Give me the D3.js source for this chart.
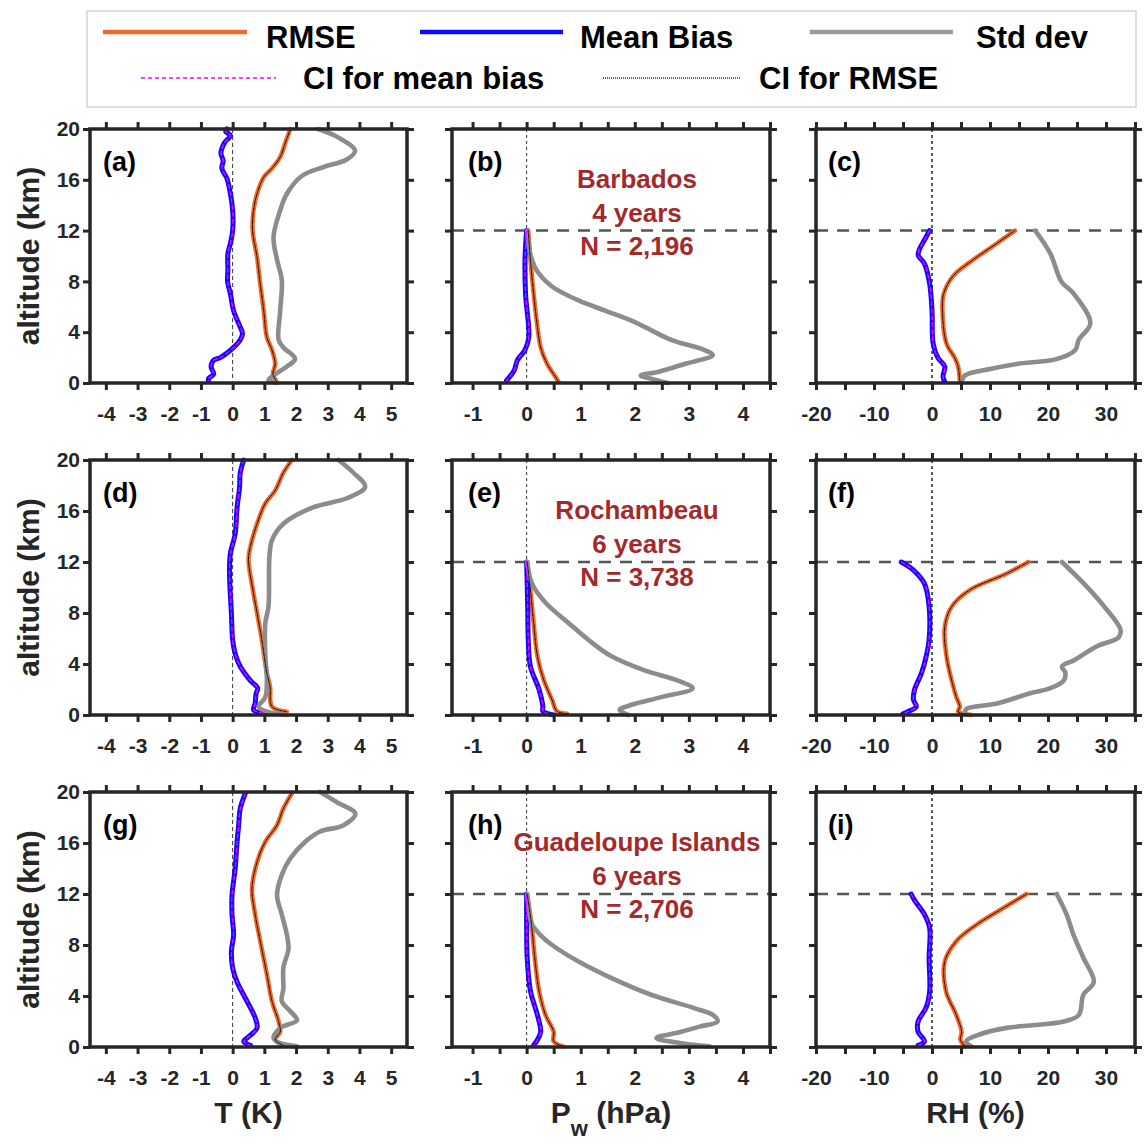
<!DOCTYPE html>
<html>
<head>
<meta charset="utf-8">
<script src="https://cdn.jsdelivr.net/npm/d3@7"></script>
<style>
  body { margin: 0; background: #fff; }
  svg { display: block; }
  text { font-family: "Liberation Sans", Arial, sans-serif; font-weight: bold; }
</style>
</head>
<body>
<svg id="chart" width="1144" height="1146"></svg>
<script>
// ---------- Station annotations ----------
const stationNames = ["Barbados", "Rochambeau", "Guadeloupe Islands"];
const stationYears = ["4 years", "6 years", "6 years"];
const stationCounts = ["N = 2,196", "N = 3,738", "N = 2,706"];
const panelLabels = [["(a)", "(b)", "(c)"], ["(d)", "(e)", "(f)"], ["(g)", "(h)", "(i)"]];

// ---------- Axis ticks ----------
const altitudeTicks = [0, 4, 8, 12, 16, 20];
const tTicks = [-4, -3, -2, -1, 0, 1, 2, 3, 4, 5];
const tLabels = [-4, -3, -2, -1, 0, 1, 2, 3, 4, 5];
const pwTicks = [-1, -0.5, 0, 0.5, 1, 1.5, 2, 2.5, 3, 3.5, 4, 4.5];
const pwLabels = [-1, 0, 1, 2, 3, 4];
const rhTicks = [-20, -15, -10, -5, 0, 5, 10, 15, 20, 25, 30, 35];
const rhLabels = [-20, -10, 0, 10, 20, 30];

// ---------- Profiles: [altitude km, value] ----------
// Temperature (K)
const rmseT_BGI = [[20,1.82],[18.9,1.66],[17.8,1.5],[16.9,1.24],[16.2,0.98],[14.9,0.77],[13.6,0.66],[12,0.63],[9.9,0.77],[7.8,0.87],[5.7,0.98],[3.6,1.08],[2.6,1.24],[1.5,1.34],[0.7,1.27],[0.2,1.37]];
const biasT_BGI = [[20,-0.18],[19.8,-0.22],[19.5,-0.07],[18.9,-0.26],[18.1,-0.37],[17.5,-0.3],[16.9,-0.34],[16.1,-0.18],[14.9,-0.07],[13.6,0],[12,0],[11,-0.07],[10.2,-0.15],[8.9,-0.15],[8,-0.16],[7,-0.07],[5.7,0.03],[4.4,0.24],[3.9,0.31],[3.4,0.24],[2.8,0.03],[2.0,-0.39],[1.8,-0.6],[1.26,-0.68],[0.7,-0.6],[0.35,-0.76],[0.1,-0.76]];
const sdT_BGI = [[20,2.7],[19.4,3.28],[18.3,3.86],[17.6,3.6],[17,2.86],[16.3,2.18],[14.9,1.71],[13.6,1.5],[11.5,1.29],[9.7,1.4],[8.1,1.55],[5.7,1.5],[3.4,1.45],[2.8,1.6],[1.9,1.97],[1.3,1.71],[0.6,1.29],[0.2,1.13],[0,1.4]];

const rmseT_ROC = [[20,1.87],[19,1.6],[17.6,1.34],[16.6,1.03],[15,0.77],[13.2,0.56],[12.2,0.5],[9.8,0.64],[8,0.77],[5.9,0.92],[3.3,1.08],[2.2,1.18],[0.65,1.24],[0.26,1.71]];
const biasT_ROC = [[20,0.35],[19,0.24],[17.9,0.22],[16.3,0.14],[14.2,0.08],[12.7,-0.07],[11.6,-0.1],[10.3,-0.09],[8,-0.04],[5.9,0],[4.8,0.08],[3.8,0.24],[2.7,0.56],[2.1,0.79],[1.7,0.74],[0.9,0.71],[0.4,0.66],[0.1,1.08]];
const sdT_ROC = [[20,3.34],[19,3.81],[17.9,4.18],[17,3.6],[16.3,2.55],[15,1.6],[13.7,1.24],[12.4,1.16],[8.5,1.13],[7.2,1.03],[4.6,1.03],[2.7,1.08],[1.4,1.03],[0.65,0.82],[0.26,1.08],[0,1.71]];

const rmseT_GUA = [[19.9,1.87],[18.7,1.6],[17.4,1.4],[16.1,1.03],[14.5,0.77],[12.4,0.61],[10.4,0.71],[8.3,0.87],[5.7,1.08],[3.6,1.24],[2.0,1.45],[1.2,1.5],[0.57,1.34],[0.13,1.6]];
const biasT_GUA = [[19.9,0.4],[18.7,0.24],[17.4,0.19],[16.1,0.14],[14,0.08],[11.9,-0.02],[10.4,-0.02],[8.8,0.03],[7.5,-0.04],[6.2,0],[5.1,0.14],[3.6,0.45],[2.3,0.71],[1.5,0.77],[0.8,0.5],[0.44,0.35],[0.13,0.56]];
const sdT_GUA = [[20,2.76],[19.2,3.29],[18.3,3.87],[17.4,3.5],[16.9,2.76],[16.1,2.29],[14.8,1.82],[13.5,1.55],[11.9,1.4],[10.4,1.55],[8.8,1.71],[7.7,1.76],[6.2,1.6],[4.6,1.6],[3.6,1.55],[2.8,1.82],[2.1,2.03],[1.5,1.5],[0.7,1.29],[0.3,1.5],[0.05,2.03]];

// Water vapour pressure (hPa)
const rmsePw_BGI = [[12,0.03],[9.7,0.07],[7,0.13],[4.4,0.2],[2.8,0.26],[1.5,0.38],[0.5,0.53],[0.1,0.59]];
const biasPw_BGI = [[12,0],[9.7,-0.03],[7,-0.02],[3.6,0.04],[2.6,-0.03],[1.8,-0.17],[1.0,-0.23],[0.2,-0.37]];
const sdPw_BGI = [[12,0.01],[10.5,0.05],[9.7,0.1],[8.9,0.18],[7.6,0.47],[6.5,0.96],[5.7,1.45],[4.8,2.0],[3.4,2.67],[2.7,3.22],[2.2,3.44],[1.5,2.92],[0.87,2.43],[0.6,2.11],[0.34,2.3],[0,2.61]];

const rmsePw_ROC = [[12,0.01],[9.8,0.07],[7.2,0.13],[4.6,0.2],[2.7,0.32],[1.2,0.47],[0.3,0.56],[0.1,0.75]];
const biasPw_ROC = [[12,0],[8.5,0.02],[5.9,0.03],[3.8,0.07],[2.0,0.23],[0.65,0.3],[0.3,0.3],[0,0.5]];
const sdPw_ROC = [[12,0.01],[10.3,0.1],[8.8,0.35],[7.2,0.78],[5.9,1.14],[4.6,1.57],[3.5,2.18],[2.7,2.8],[2.1,3.07],[1.4,2.49],[0.8,1.94],[0.4,1.72],[0,1.88]];

const rmsePw_GUA = [[12,0.01],[9.6,0.09],[7,0.15],[4.4,0.23],[2.5,0.35],[1.2,0.5],[0.44,0.5],[0.05,0.67]];
const biasPw_GUA = [[12,0],[9.6,0],[7,0.01],[4.4,0.07],[2.5,0.2],[1.2,0.26],[0.57,0.2],[0.13,0.13]];
const sdPw_GUA = [[12,0.01],[10.5,0.05],[9.6,0.1],[8.8,0.25],[8.0,0.47],[6.7,0.96],[5.4,1.57],[4.1,2.3],[3.05,3.1],[2.5,3.45],[2.0,3.53],[1.6,3.2],[1.2,2.86],[0.7,2.4],[0.3,2.86],[0.05,3.38]];

// Relative humidity (%)
const rmseRH_BGI = [[12,14.3],[11,11.2],[9.7,7.1],[8.4,3.6],[7,2.0],[5.7,1.8],[3.1,2.5],[2.0,3.9],[1.3,4.5],[0.1,4.8]];
const biasRH_BGI = [[12,-0.4],[11.5,-1],[10.1,-2.4],[9.4,-1.3],[7.8,-0.4],[5.7,0],[3.1,0.2],[2.0,1.0],[1.3,2.2],[0.5,1.9],[0.1,2.2]];
const sdRH_BGI = [[12,17.8],[10.2,20.4],[8,22.3],[7,24.5],[4.7,27.3],[3.4,25.3],[2.6,24.7],[1.9,21.6],[1.5,14.6],[1.1,10],[0.6,5.7],[0.1,5.1]];

const rmseRH_ROC = [[12,16.6],[11.1,12.9],[9.8,6.5],[8.5,3.4],[6.9,2.2],[4.6,2.5],[2.7,3.4],[1.4,4.2],[0.65,4.8],[0.26,4.5],[0,6.8]];
const biasRH_ROC = [[12,-5.3],[11.4,-3.3],[10.3,-1.3],[8.5,-0.5],[5.9,-0.5],[4.6,-1],[3.3,-1.8],[2.0,-3.0],[1.2,-3.2],[0.65,-2.7],[0.26,-4.2],[0.1,-5]];
const sdRH_ROC = [[12,22.4],[10.3,26.2],[8.5,29.7],[6.7,32.5],[6.1,32.2],[5.4,28.5],[4.3,24.5],[3.8,22.4],[3.3,23],[2.7,22.7],[2.1,20.4],[1.7,16.9],[0.9,11.2],[0.5,6],[0.26,5.7]];

const rmseRH_GUA = [[12,16.3],[10.9,12.3],[9.6,7.7],[8.3,4.2],[6.7,2.2],[4.4,2.4],[2.5,4.2],[1.2,5.1],[0.57,4.9],[0.05,5.7]];
const biasRH_GUA = [[12,-3.6],[11.5,-3],[10.4,-1.3],[9.3,-0.4],[7,-0.5],[4.4,-0.4],[3.1,-1],[2.0,-2.4],[1.2,-2.4],[0.44,-1.3],[0.13,-2.4]];
const sdRH_GUA = [[12,21.5],[10.4,23.2],[8.8,24.4],[7,26.1],[5.1,27.9],[4.1,26.1],[2.5,25.3],[2.0,22.7],[1.5,12.9],[1.0,8.3],[0.44,5.9],[0.05,6.8]];

// ---------- Assembly ----------
const profiles = [
  [ {rmse: rmseT_BGI, bias: biasT_BGI, sd: sdT_BGI},
    {rmse: rmsePw_BGI, bias: biasPw_BGI, sd: sdPw_BGI},
    {rmse: rmseRH_BGI, bias: biasRH_BGI, sd: sdRH_BGI} ],
  [ {rmse: rmseT_ROC, bias: biasT_ROC, sd: sdT_ROC},
    {rmse: rmsePw_ROC, bias: biasPw_ROC, sd: sdPw_ROC},
    {rmse: rmseRH_ROC, bias: biasRH_ROC, sd: sdRH_ROC} ],
  [ {rmse: rmseT_GUA, bias: biasT_GUA, sd: sdT_GUA},
    {rmse: rmsePw_GUA, bias: biasPw_GUA, sd: sdPw_GUA},
    {rmse: rmseRH_GUA, bias: biasRH_GUA, sd: sdRH_GUA} ]
];

const variables = [
  {domain: [-4.5, 5.5], ticks: tTicks, labels: tLabels, zeroDash: "4,3", zeroWidth: 1, labelDx: 13},
  {domain: [-1.38, 4.5], ticks: pwTicks, labels: pwLabels, zeroDash: "3,3", zeroWidth: 1, labelDx: 16},
  {domain: [-20, 35], ticks: rhTicks, labels: rhLabels, zeroDash: "3,3", zeroWidth: 1.6, labelDx: 12}
];

const colX = [[90, 407], [452, 770], [816, 1135]];
const rowY = [[129, 383], [460, 715], [792, 1047]];

const COLORS = {rmse: "#f26a2c", bias: "#0a0aff", sd: "#8c8c8c", ciBias: "#ff00ff", ciRmse: "#000000", axis: "#262626", note: "#a3292b"};

const svg = d3.select("#chart");
svg.append("rect").attr("width", 1144).attr("height", 1146).attr("fill", "#fff");

// ---------- Legend ----------
const legend = svg.append("g");
legend.append("rect").attr("x", 87).attr("y", 11).attr("width", 1049).attr("height", 96)
  .attr("fill", "#fff").attr("stroke", "#d4d4d4").attr("stroke-width", 1.5);
const legendItems = [
  {x1: 103, x2: 247, y: 32, tx: 266, ty: 48, text: "RMSE", stroke: COLORS.rmse, width: 4.5, dash: null},
  {x1: 420, x2: 563, y: 32, tx: 580, ty: 48, text: "Mean Bias", stroke: COLORS.bias, width: 4.5, dash: null},
  {x1: 810, x2: 953, y: 32, tx: 976, ty: 48, text: "Std dev", stroke: "#9c9c9c", width: 4.5, dash: null},
  {x1: 141, x2: 276, y: 78, tx: 303, ty: 89, text: "CI for mean bias", stroke: COLORS.ciBias, width: 1.3, dash: "4,3"},
  {x1: 603, x2: 741, y: 78, tx: 759, ty: 89, text: "CI for RMSE", stroke: "#333", width: 1.6, dash: "1,1"}
];
legendItems.forEach(d => {
  legend.append("line").attr("x1", d.x1).attr("x2", d.x2).attr("y1", d.y).attr("y2", d.y)
    .attr("stroke", d.stroke).attr("stroke-width", d.width).attr("stroke-dasharray", d.dash);
  legend.append("text").attr("x", d.tx).attr("y", d.ty).attr("font-size", 31).attr("fill", "#000").text(d.text);
});

// ---------- Panels ----------
function styleAxis(g, fontSize) {
  g.attr("font-family", null).attr("font-size", null);
  g.select(".domain").remove();
  g.selectAll(".tick line").attr("stroke", COLORS.axis).attr("stroke-width", 3);
  g.selectAll(".tick text").attr("font-size", fontSize).attr("fill", COLORS.axis);
}

const TICK_FONT = 21;

profiles.forEach((rowData, r) => {
  rowData.forEach((p, c) => {
    const v = variables[c];
    const [x0, x1] = colX[c];
    const [y0, y1] = rowY[r];
    const x = d3.scaleLinear().domain(v.domain).range([x0, x1]);
    const y = d3.scaleLinear().domain([0, 20]).range([y1, y0]);
    const g = svg.append("g");

    // zero reference
    g.append("line").attr("x1", x(0)).attr("x2", x(0)).attr("y1", y0).attr("y2", y1)
      .attr("stroke", "#333").attr("stroke-width", v.zeroWidth).attr("stroke-dasharray", v.zeroDash);

    // 12 km limit for humidity variables
    if (c > 0) {
      g.append("line").attr("x1", x0).attr("x2", x1).attr("y1", y(12)).attr("y2", y(12))
        .attr("stroke", "#555").attr("stroke-width", 2.5).attr("stroke-dasharray", "12,9");
    }

    const line = d3.line().x(d => x(d[1])).y(d => y(d[0])).curve(d3.curveCatmullRom.alpha(0.5));
    const draw = (data, stroke, width, dash) => g.append("path").datum(data)
      .attr("d", line).attr("fill", "none").attr("stroke", stroke).attr("stroke-width", width)
      .attr("stroke-linejoin", "round").attr("stroke-linecap", "round").attr("stroke-dasharray", dash);

    draw(p.rmse, COLORS.rmse, 4.5, null);
    draw(p.bias, COLORS.bias, 5, null);
    draw(p.sd, COLORS.sd, 4.6, null);
    draw(p.bias, COLORS.ciBias, 1.4, "4,3");
    draw(p.rmse, COLORS.ciRmse, 1, "1.2,1.2");

    // axes (ticks outward on all four sides)
    const fmt = d => v.labels.includes(d) ? String(d) : "";
    styleAxis(g.append("g").attr("transform", `translate(0,${y1})`)
      .call(d3.axisBottom(x).tickValues(v.ticks).tickSize(7).tickSizeOuter(0).tickPadding(16).tickFormat(fmt)), TICK_FONT);
    styleAxis(g.append("g").attr("transform", `translate(0,${y0})`)
      .call(d3.axisTop(x).tickValues(v.ticks).tickSize(7).tickSizeOuter(0).tickFormat("")), TICK_FONT);
    styleAxis(g.append("g").attr("transform", `translate(${x0},0)`)
      .call(d3.axisLeft(y).tickValues(altitudeTicks).tickSize(7).tickSizeOuter(0).tickPadding(3)
        .tickFormat(c === 0 ? d => String(d) : "")), TICK_FONT);
    styleAxis(g.append("g").attr("transform", `translate(${x1},0)`)
      .call(d3.axisRight(y).tickValues(altitudeTicks).tickSize(7).tickSizeOuter(0).tickFormat("")), TICK_FONT);

    // frame
    g.append("rect").attr("x", x0).attr("y", y0).attr("width", x1 - x0).attr("height", y1 - y0)
      .attr("fill", "none").attr("stroke", COLORS.axis).attr("stroke-width", 3.5);

    // panel letter
    g.append("text").attr("x", x0 + v.labelDx).attr("y", y0 + 42).attr("font-size", 27)
      .attr("fill", "#000").text(panelLabels[r][c]);

    // station note in the middle column
    if (c === 1) {
      const cx = (x0 + x1) / 2 + 26;
      [stationNames[r], stationYears[r], stationCounts[r]].forEach((t, i) => {
        g.append("text").attr("x", cx).attr("y", y0 + 50 + i * 33.5).attr("dy", "0.35em")
          .attr("text-anchor", "middle").attr("font-size", 26).attr("fill", COLORS.note).text(t);
      });
    }
  });

  // y-axis title
  const cy = (rowY[r][0] + rowY[r][1]) / 2;
  svg.append("text").attr("transform", `translate(39,${cy}) rotate(-90)`)
    .attr("text-anchor", "middle").attr("font-size", 30).attr("fill", COLORS.axis).text("altitude (km)");
});

// ---------- x-axis titles ----------
const titleY = 1123;
svg.append("text").attr("x", (colX[0][0] + colX[0][1]) / 2).attr("y", titleY)
  .attr("text-anchor", "middle").attr("font-size", 30).attr("fill", COLORS.axis).text("T (K)");
const pw = svg.append("text").attr("x", (colX[1][0] + colX[1][1]) / 2).attr("y", titleY)
  .attr("text-anchor", "middle").attr("font-size", 30).attr("fill", COLORS.axis);
pw.append("tspan").text("P");
pw.append("tspan").attr("font-size", 22).attr("dy", 13).text("w");
pw.append("tspan").attr("dy", -13).text(" (hPa)");
svg.append("text").attr("x", (colX[2][0] + colX[2][1]) / 2).attr("y", titleY)
  .attr("text-anchor", "middle").attr("font-size", 30).attr("fill", COLORS.axis).text("RH (%)");
</script>
</body>
</html>
